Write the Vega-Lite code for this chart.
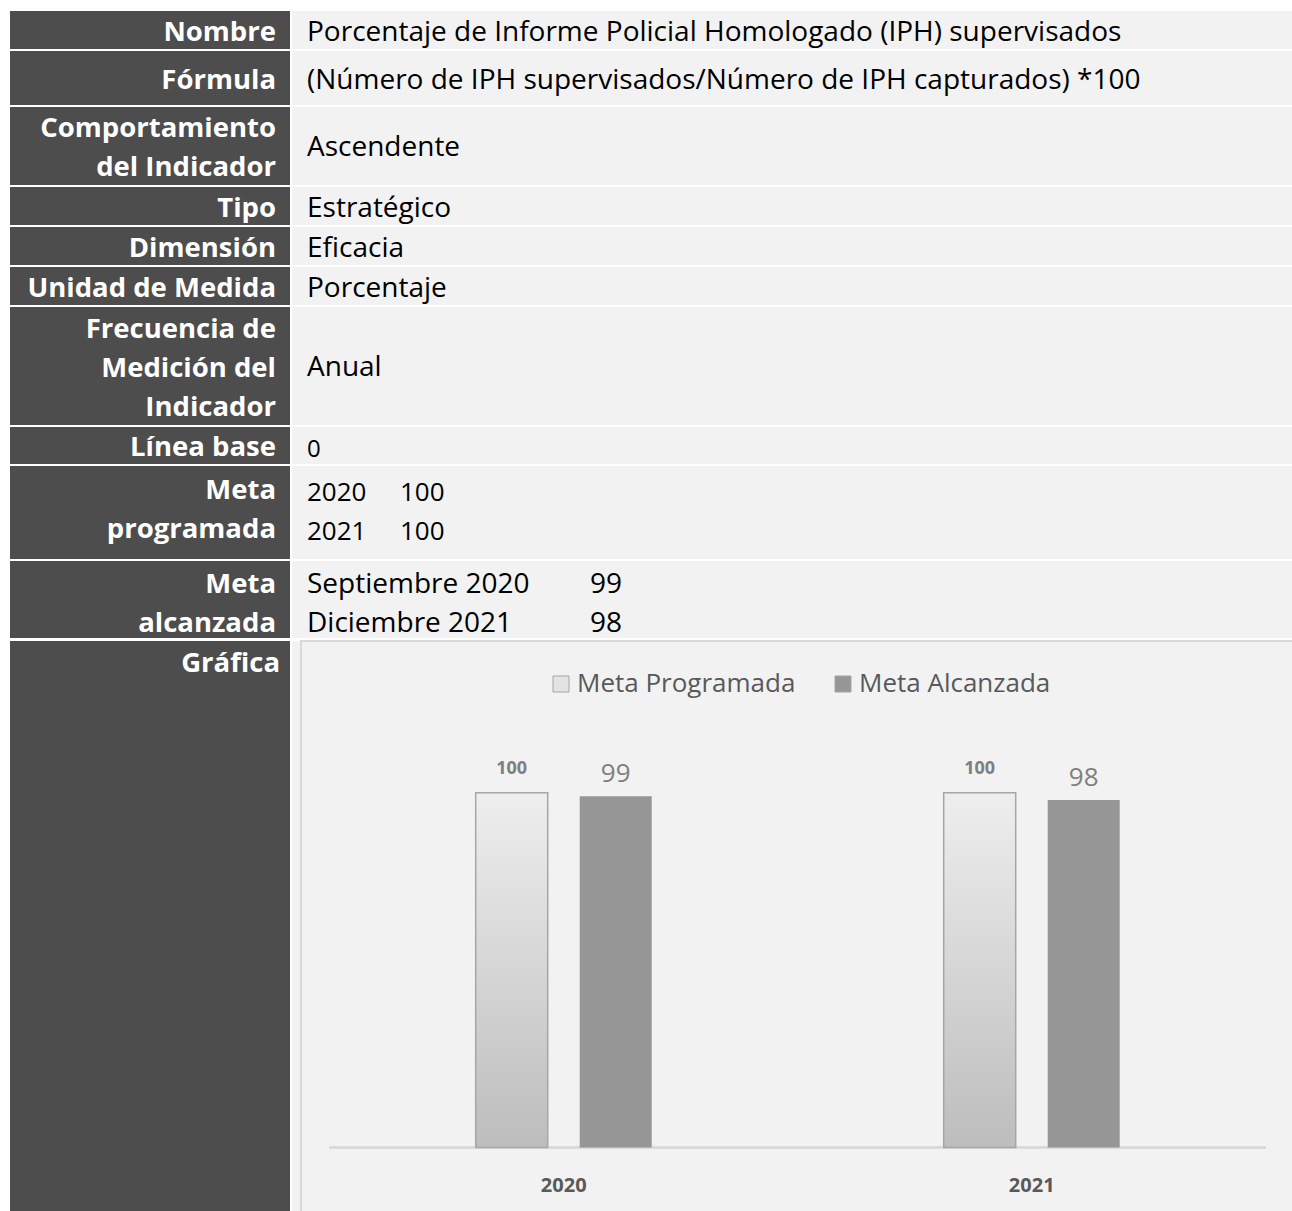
{
  "$schema": "https://vega.github.io/schema/vega-lite/v6.json",
  "background": "white",
  "padding": {"left": 10, "top": 11, "right": 0, "bottom": 0},
  "spacing": 2,
  "resolve": {"scale": {"color": "independent"}, "legend": {"color": "independent"}},
  "config": {"view": {"stroke": null}, "concat": {"spacing": 2}, "text": {"font": "Open Sans"}},
  "vconcat": [
    {"hconcat": [
      {"width": 280, "height": 38, "view": {"fill": "#4d4d4d"}, "data": {"values": [{"t": "Nombre"}]},
       "mark": {"type": "text", "align": "right", "baseline": "middle", "dx": -14, "dy": 2.5, "fontSize": 27.5, "fontWeight": "bold", "color": "#ffffff", "lineBreak": "\n", "lineHeight": 39},
       "encoding": {"text": {"field": "t"}, "x": {"value": "width"}, "y": {"field": "t", "type": "nominal", "axis": null}}},
      {"width": 1000, "height": 38, "view": {"fill": "#f2f2f2"}, "data": {"values": [{"t": "Porcentaje de Informe Policial Homologado (IPH) supervisados"}]},
       "mark": {"type": "text", "align": "left", "baseline": "middle", "dx": 15, "dy": 2.5, "fontSize": 28, "color": "#000000", "lineBreak": "\n", "lineHeight": 39},
       "encoding": {"text": {"field": "t"}, "x": {"value": 0}, "y": {"field": "t", "type": "nominal", "axis": null}}}
    ]},
    {"hconcat": [
      {"width": 280, "height": 54, "view": {"fill": "#4d4d4d"}, "data": {"values": [{"t": "Fórmula"}]},
       "mark": {"type": "text", "align": "right", "baseline": "middle", "dx": -14, "dy": 2.5, "fontSize": 27.5, "fontWeight": "bold", "color": "#ffffff", "lineBreak": "\n", "lineHeight": 39},
       "encoding": {"text": {"field": "t"}, "x": {"value": "width"}, "y": {"field": "t", "type": "nominal", "axis": null}}},
      {"width": 1000, "height": 54, "view": {"fill": "#f2f2f2"}, "data": {"values": [{"t": "(Número de IPH supervisados/Número de IPH capturados) *100"}]},
       "mark": {"type": "text", "align": "left", "baseline": "middle", "dx": 15, "dy": 2.5, "fontSize": 28, "color": "#000000", "lineBreak": "\n", "lineHeight": 39},
       "encoding": {"text": {"field": "t"}, "x": {"value": 0}, "y": {"field": "t", "type": "nominal", "axis": null}}}
    ]},
    {"hconcat": [
      {"width": 280, "height": 78, "view": {"fill": "#4d4d4d"}, "data": {"values": [{"t": "Comportamiento\ndel Indicador"}]},
       "mark": {"type": "text", "align": "right", "baseline": "middle", "dx": -14, "dy": -17, "fontSize": 27.5, "fontWeight": "bold", "color": "#ffffff", "lineBreak": "\n", "lineHeight": 39},
       "encoding": {"text": {"field": "t"}, "x": {"value": "width"}, "y": {"field": "t", "type": "nominal", "axis": null}}},
      {"width": 1000, "height": 78, "view": {"fill": "#f2f2f2"}, "data": {"values": [{"t": "Ascendente"}]},
       "mark": {"type": "text", "align": "left", "baseline": "middle", "dx": 15, "dy": 1.5, "fontSize": 28, "color": "#000000", "lineBreak": "\n", "lineHeight": 39},
       "encoding": {"text": {"field": "t"}, "x": {"value": 0}, "y": {"field": "t", "type": "nominal", "axis": null}}}
    ]},
    {"hconcat": [
      {"width": 280, "height": 38, "view": {"fill": "#4d4d4d"}, "data": {"values": [{"t": "Tipo"}]},
       "mark": {"type": "text", "align": "right", "baseline": "middle", "dx": -14, "dy": 2.5, "fontSize": 27.5, "fontWeight": "bold", "color": "#ffffff", "lineBreak": "\n", "lineHeight": 39},
       "encoding": {"text": {"field": "t"}, "x": {"value": "width"}, "y": {"field": "t", "type": "nominal", "axis": null}}},
      {"width": 1000, "height": 38, "view": {"fill": "#f2f2f2"}, "data": {"values": [{"t": "Estratégico"}]},
       "mark": {"type": "text", "align": "left", "baseline": "middle", "dx": 15, "dy": 2.5, "fontSize": 28, "color": "#000000", "lineBreak": "\n", "lineHeight": 39},
       "encoding": {"text": {"field": "t"}, "x": {"value": 0}, "y": {"field": "t", "type": "nominal", "axis": null}}}
    ]},
    {"hconcat": [
      {"width": 280, "height": 38, "view": {"fill": "#4d4d4d"}, "data": {"values": [{"t": "Dimensión"}]},
       "mark": {"type": "text", "align": "right", "baseline": "middle", "dx": -14, "dy": 2.5, "fontSize": 27.5, "fontWeight": "bold", "color": "#ffffff", "lineBreak": "\n", "lineHeight": 39},
       "encoding": {"text": {"field": "t"}, "x": {"value": "width"}, "y": {"field": "t", "type": "nominal", "axis": null}}},
      {"width": 1000, "height": 38, "view": {"fill": "#f2f2f2"}, "data": {"values": [{"t": "Eficacia"}]},
       "mark": {"type": "text", "align": "left", "baseline": "middle", "dx": 15, "dy": 2.5, "fontSize": 28, "color": "#000000", "lineBreak": "\n", "lineHeight": 39},
       "encoding": {"text": {"field": "t"}, "x": {"value": 0}, "y": {"field": "t", "type": "nominal", "axis": null}}}
    ]},
    {"hconcat": [
      {"width": 280, "height": 38, "view": {"fill": "#4d4d4d"}, "data": {"values": [{"t": "Unidad de Medida"}]},
       "mark": {"type": "text", "align": "right", "baseline": "middle", "dx": -14, "dy": 2.5, "fontSize": 27.5, "fontWeight": "bold", "color": "#ffffff", "lineBreak": "\n", "lineHeight": 39},
       "encoding": {"text": {"field": "t"}, "x": {"value": "width"}, "y": {"field": "t", "type": "nominal", "axis": null}}},
      {"width": 1000, "height": 38, "view": {"fill": "#f2f2f2"}, "data": {"values": [{"t": "Porcentaje"}]},
       "mark": {"type": "text", "align": "left", "baseline": "middle", "dx": 15, "dy": 2.5, "fontSize": 28, "color": "#000000", "lineBreak": "\n", "lineHeight": 39},
       "encoding": {"text": {"field": "t"}, "x": {"value": 0}, "y": {"field": "t", "type": "nominal", "axis": null}}}
    ]},
    {"hconcat": [
      {"width": 280, "height": 118, "view": {"fill": "#4d4d4d"}, "data": {"values": [{"t": "Frecuencia de\nMedición del\nIndicador"}]},
       "mark": {"type": "text", "align": "right", "baseline": "middle", "dx": -14, "dy": -36.5, "fontSize": 27.5, "fontWeight": "bold", "color": "#ffffff", "lineBreak": "\n", "lineHeight": 39},
       "encoding": {"text": {"field": "t"}, "x": {"value": "width"}, "y": {"field": "t", "type": "nominal", "axis": null}}},
      {"width": 1000, "height": 118, "view": {"fill": "#f2f2f2"}, "data": {"values": [{"t": "Anual"}]},
       "mark": {"type": "text", "align": "left", "baseline": "middle", "dx": 15, "dy": 1.5, "fontSize": 28, "color": "#000000", "lineBreak": "\n", "lineHeight": 39},
       "encoding": {"text": {"field": "t"}, "x": {"value": 0}, "y": {"field": "t", "type": "nominal", "axis": null}}}
    ]},
    {"hconcat": [
      {"width": 280, "height": 37, "view": {"fill": "#4d4d4d"}, "data": {"values": [{"t": "Línea base"}]},
       "mark": {"type": "text", "align": "right", "baseline": "middle", "dx": -14, "dy": 2.5, "fontSize": 27.5, "fontWeight": "bold", "color": "#ffffff", "lineBreak": "\n", "lineHeight": 39},
       "encoding": {"text": {"field": "t"}, "x": {"value": "width"}, "y": {"field": "t", "type": "nominal", "axis": null}}},
      {"width": 1000, "height": 37, "view": {"fill": "#f2f2f2"}, "data": {"values": [{"t": "0"}]},
       "mark": {"type": "text", "align": "left", "baseline": "middle", "dx": 15, "dy": 4, "fontSize": 24, "color": "#000000", "lineBreak": "\n", "lineHeight": 39},
       "encoding": {"text": {"field": "t"}, "x": {"value": 0}, "y": {"field": "t", "type": "nominal", "axis": null}}}
    ]},
    {"hconcat": [
      {"width": 280, "height": 93, "view": {"fill": "#4d4d4d"}, "data": {"values": [{"t": "Meta\nprogramada"}]},
       "mark": {"type": "text", "align": "right", "baseline": "middle", "dx": -14, "dy": -22, "fontSize": 27.5, "fontWeight": "bold", "color": "#ffffff", "lineBreak": "\n", "lineHeight": 39},
       "encoding": {"text": {"field": "t"}, "x": {"value": "width"}, "y": {"field": "t", "type": "nominal", "axis": null}}},
      {"width": 1000, "height": 93, "view": {"fill": "#f2f2f2"}, "data": {"values": [{"year": "2020\n2021", "meta": "100\n100"}]},
       "layer": [
         {"mark": {"type": "text", "align": "left", "baseline": "middle", "dx": 15, "dy": -20, "fontSize": 26, "color": "#000000", "lineBreak": "\n", "lineHeight": 39},
          "encoding": {"text": {"field": "year"}, "x": {"value": 0}, "y": {"field": "year", "type": "nominal", "axis": null}}},
         {"mark": {"type": "text", "align": "left", "baseline": "middle", "dx": 108, "dy": -20, "fontSize": 26, "color": "#000000", "lineBreak": "\n", "lineHeight": 39},
          "encoding": {"text": {"field": "meta"}, "x": {"value": 0}, "y": {"field": "year", "type": "nominal", "axis": null}}}
       ]}
    ]},
    {"hconcat": [
      {"width": 280, "height": 77, "view": {"fill": "#4d4d4d"}, "data": {"values": [{"t": "Meta\nalcanzada"}]},
       "mark": {"type": "text", "align": "right", "baseline": "middle", "dx": -14, "dy": -15, "fontSize": 27.5, "fontWeight": "bold", "color": "#ffffff", "lineBreak": "\n", "lineHeight": 39},
       "encoding": {"text": {"field": "t"}, "x": {"value": "width"}, "y": {"field": "t", "type": "nominal", "axis": null}}},
      {"width": 1000, "height": 77, "view": {"fill": "#f2f2f2"}, "data": {"values": [{"period": "Septiembre 2020\nDiciembre 2021", "meta": "99\n98"}]},
       "layer": [
         {"mark": {"type": "text", "align": "left", "baseline": "middle", "dx": 15, "dy": -15, "fontSize": 28, "color": "#000000", "lineBreak": "\n", "lineHeight": 39},
          "encoding": {"text": {"field": "period"}, "x": {"value": 0}, "y": {"field": "period", "type": "nominal", "axis": null}}},
         {"mark": {"type": "text", "align": "left", "baseline": "middle", "dx": 298, "dy": -15, "fontSize": 28, "color": "#000000", "lineBreak": "\n", "lineHeight": 39},
          "encoding": {"text": {"field": "meta"}, "x": {"value": 0}, "y": {"field": "period", "type": "nominal", "axis": null}}}
       ]}
    ]},
    {"resolve": {"scale": {"color": "independent"}, "legend": {"color": "independent"}},
     "hconcat": [
      {"width": 280, "height": 571, "view": {"fill": "#4d4d4d"}, "data": {"values": [{"t": "Gráfica"}]},
       "mark": {"type": "text", "align": "right", "baseline": "middle", "dx": -10, "dy": 2, "fontSize": 27.5, "fontWeight": "bold", "color": "#ffffff"},
       "encoding": {"text": {"field": "t"}, "x": {"value": "width"}, "y": {"value": 21}}},
      {"spacing": 0, "resolve": {"scale": {"color": "independent"}, "legend": {"color": "independent"}},
       "hconcat": [
        {"width": 8, "height": 571, "view": {"fill": "#f2f2f2"}, "data": {"values": [{}]},
         "mark": {"type": "text"}, "encoding": {"text": {"value": ""}}},
        {"width": 992, "height": 571, "view": {"fill": "#f2f2f2", "stroke": "#d9d9d9", "strokeWidth": 2},
         "data": {"values": [
           {"year": "2020", "series": "Meta Programada", "value": 100},
           {"year": "2020", "series": "Meta Alcanzada", "value": 99},
           {"year": "2021", "series": "Meta Programada", "value": 100},
           {"year": "2021", "series": "Meta Alcanzada", "value": 98}
         ]},
         "layer": [
           {"mark": {"type": "rule", "color": "#d9d9d9", "strokeWidth": 2},
            "encoding": {
              "x": {"datum": "2020", "type": "nominal", "bandPosition": -0.11,
                    "scale": {"domain": ["2020", "2021"], "paddingInner": 0.1795, "paddingOuter": 0.1496, "align": 0.505},
                    "axis": {"orient": "bottom", "offset": -64.5, "domain": false, "ticks": false, "grid": false, "labelAngle": 0, "labelPadding": 28, "labelFont": "Open Sans", "labelFontSize": 20, "labelFontWeight": "bold", "labelColor": "#595959", "title": null}},
              "x2": {"datum": "2021", "bandPosition": 1.11},
              "y": {"datum": 0, "type": "quantitative", "scale": {"domain": [-18.2, 142.8], "nice": false, "zero": false}, "axis": null}
            }},
           {"mark": {"type": "bar"},
            "encoding": {
              "x": {"field": "year", "type": "nominal"},
              "xOffset": {"field": "series", "type": "nominal", "sort": ["Meta Programada", "Meta Alcanzada"], "scale": {"paddingInner": 0.3077, "paddingOuter": 1}},
              "y": {"field": "value", "type": "quantitative", "axis": null},
              "y2": {"datum": 0},
              "color": {"field": "series", "type": "nominal",
                        "scale": {"domain": ["Meta Programada", "Meta Alcanzada"], "range": ["#e3e3e3", "#969696"]},
                        "legend": {"orient": "none", "legendX": 247, "legendY": 30, "direction": "horizontal", "title": null, "symbolType": "square", "symbolSize": 256, "symbolStrokeColor": "#a6a6a6", "symbolStrokeWidth": 1, "labelFont": "Open Sans", "labelFontSize": 26, "labelColor": "#595959", "labelOffset": 3, "labelLimit": 400, "columnPadding": 34}}
            }},
           {"transform": [{"filter": "datum.series === 'Meta Programada'"}],
            "mark": {"type": "bar", "stroke": "#a6a6a6", "strokeWidth": 1.5,
                     "fill": {"gradient": "linear", "x1": 0, "y1": 0, "x2": 0, "y2": 1, "stops": [{"offset": 0, "color": "#eeeeee"}, {"offset": 1, "color": "#bdbdbd"}]}},
            "encoding": {
              "x": {"field": "year", "type": "nominal"},
              "xOffset": {"field": "series", "type": "nominal", "sort": ["Meta Programada", "Meta Alcanzada"]},
              "y": {"field": "value", "type": "quantitative", "axis": null},
              "y2": {"datum": 0}
            }},
           {"transform": [{"filter": "datum.series === 'Meta Programada'"}],
            "mark": {"type": "text", "fontWeight": "bold", "fontSize": 18, "color": "#7f7f7f", "baseline": "alphabetic", "dy": -19},
            "encoding": {
              "x": {"field": "year", "type": "nominal"},
              "xOffset": {"field": "series", "type": "nominal", "sort": ["Meta Programada", "Meta Alcanzada"]},
              "y": {"field": "value", "type": "quantitative", "axis": null},
              "text": {"field": "value", "type": "quantitative"}
            }},
           {"transform": [{"filter": "datum.series === 'Meta Alcanzada'"}],
            "mark": {"type": "text", "fontSize": 26, "color": "#7f7f7f", "baseline": "alphabetic", "dy": -14},
            "encoding": {
              "x": {"field": "year", "type": "nominal"},
              "xOffset": {"field": "series", "type": "nominal", "sort": ["Meta Programada", "Meta Alcanzada"]},
              "y": {"field": "value", "type": "quantitative", "axis": null},
              "text": {"field": "value", "type": "quantitative"}
            }}
         ]}
      ]}
    ]}
  ]
}
